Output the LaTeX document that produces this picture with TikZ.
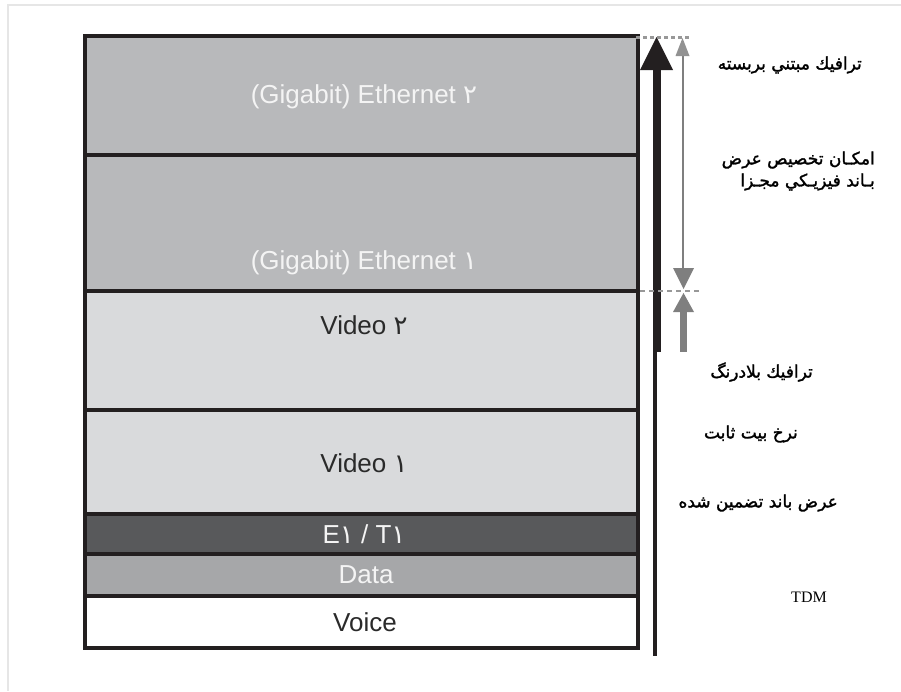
\documentclass[tikz,border=0pt]{standalone}
\usepackage{fontspec}
\setmainfont{Liberation Sans}
\newfontfamily\arabicfont[Script=Arabic]{DejaVu Sans}
\newfontfamily\notefont[Script=Arabic,FakeBold=1.6]{DejaVu Sans}
\newfontfamily\tdmfont{Liberation Serif}
\TeXXeTstate=1

\definecolor{ethgray}{HTML}{B8B9BB}
\definecolor{vidgray}{HTML}{D9DADC}
\definecolor{e1gray}{HTML}{58595B}
\definecolor{datagray}{HTML}{A6A7A9}
\definecolor{edge}{HTML}{231F20}
\definecolor{arrowgray}{HTML}{7F7F7F}
\definecolor{framegray}{HTML}{E6E6E6}
\definecolor{lighttext}{HTML}{F4F4F4}
\definecolor{darktext}{HTML}{2A2A2A}

\tikzset{
  bandlabel/.style={font=\fontsize{26}{30}\selectfont, inner sep=0pt, anchor=center},
  fatext/.style={font=\notefont\fontsize{17}{20}\selectfont, text=black, inner sep=0pt, anchor=east},
  divider/.style={draw=edge, line width=4pt},
}

\begin{document}
\begin{tikzpicture}[x=1pt,y=-1pt]
\useasboundingbox (0,0) rectangle (901,691);

% faint page frame
\draw[framegray, line width=1.2pt] (8,691) -- (8,5) -- (901,5);

% bands of the stack
\fill[ethgray]  (85,36)  rectangle (638,291);
\fill[vidgray]  (85,291) rectangle (638,514);
\fill[e1gray]   (85,514) rectangle (638,554);
\fill[datagray] (85,554) rectangle (638,596);
\fill[white]    (85,596) rectangle (638,648);

% borders between the bands
\foreach \yy in {155,291,410,514,554,596}
  \draw[divider] (85,\yy) -- (638,\yy);
\draw[edge, line width=4.5pt] (85,36) rectangle (638,648);

% band labels
\node[bandlabel, text=lighttext] (eth2) at (364,97)  {(Gigabit) Ethernet {\arabicfont ۲}};
\node[bandlabel, text=lighttext] (eth1) at (364,263) {(Gigabit) Ethernet {\arabicfont ۱}};
\node[bandlabel, text=darktext]  (vid2) at (364,325) {Video {\arabicfont ۲}};
\node[bandlabel, text=darktext]  (vid1) at (364,463) {Video {\arabicfont ۱}};
\node[bandlabel, text=lighttext] (e1t1) at (364,534) {E{\arabicfont ۱} / T{\arabicfont ۱}};
\node[bandlabel, text=lighttext] (data) at (366,575) {Data};
\node[bandlabel, text=darktext]  (voice) at (365,622) {Voice};

% black arrow: total capacity
\fill[edge] (653,656) rectangle (657,352);
\fill[edge] (653,352) rectangle (660.5,68);
\fill[edge] (640,70) -- (673,70) -- (656.5,37) -- cycle;

% dashed guide lines
\draw[arrowgray!80, line width=3pt, dash pattern=on 4pt off 3pt] (636,37) -- (690,37);
\draw[arrowgray!80, line width=2.5pt, dash pattern=on 5pt off 4pt] (640,291) -- (702,291);

% gray double arrow above the guide line
\draw[arrowgray, line width=2pt] (682.5,52) -- (682.5,272);
\fill[arrowgray!85] (675.5,56) -- (689.5,56) -- (682.5,38) -- cycle;
\fill[arrowgray] (673,268) -- (694,268) -- (683.5,289) -- cycle;

% gray arrow below the guide line
\fill[arrowgray] (680,352) rectangle (687,310);
\fill[arrowgray] (673,312) -- (694,312) -- (683.5,293) -- cycle;

% side notes
\node[fatext] (packet) at (862,65)  {\beginR ترافيك مبتني بربسته\endR};
\node[fatext] (alloc1) at (875,160) {\beginR امكـان تخصيص عرض\endR};
\node[fatext] (alloc2) at (875,182) {\beginR بـاند فيزيـكي مجـزا\endR};
\node[fatext] (rt)     at (813,372) {\beginR ترافيك بلادرنگ\endR};
\node[fatext] (cbr)    at (798,434) {\beginR نرخ بيت ثابت\endR};
\node[fatext] (guar)   at (838,503) {\beginR عرض باند تضمين شده\endR};
\node[font=\tdmfont\fontsize{16}{19}\selectfont, inner sep=0pt] (tdm) at (809,597) {TDM};
\end{tikzpicture}
\end{document}
